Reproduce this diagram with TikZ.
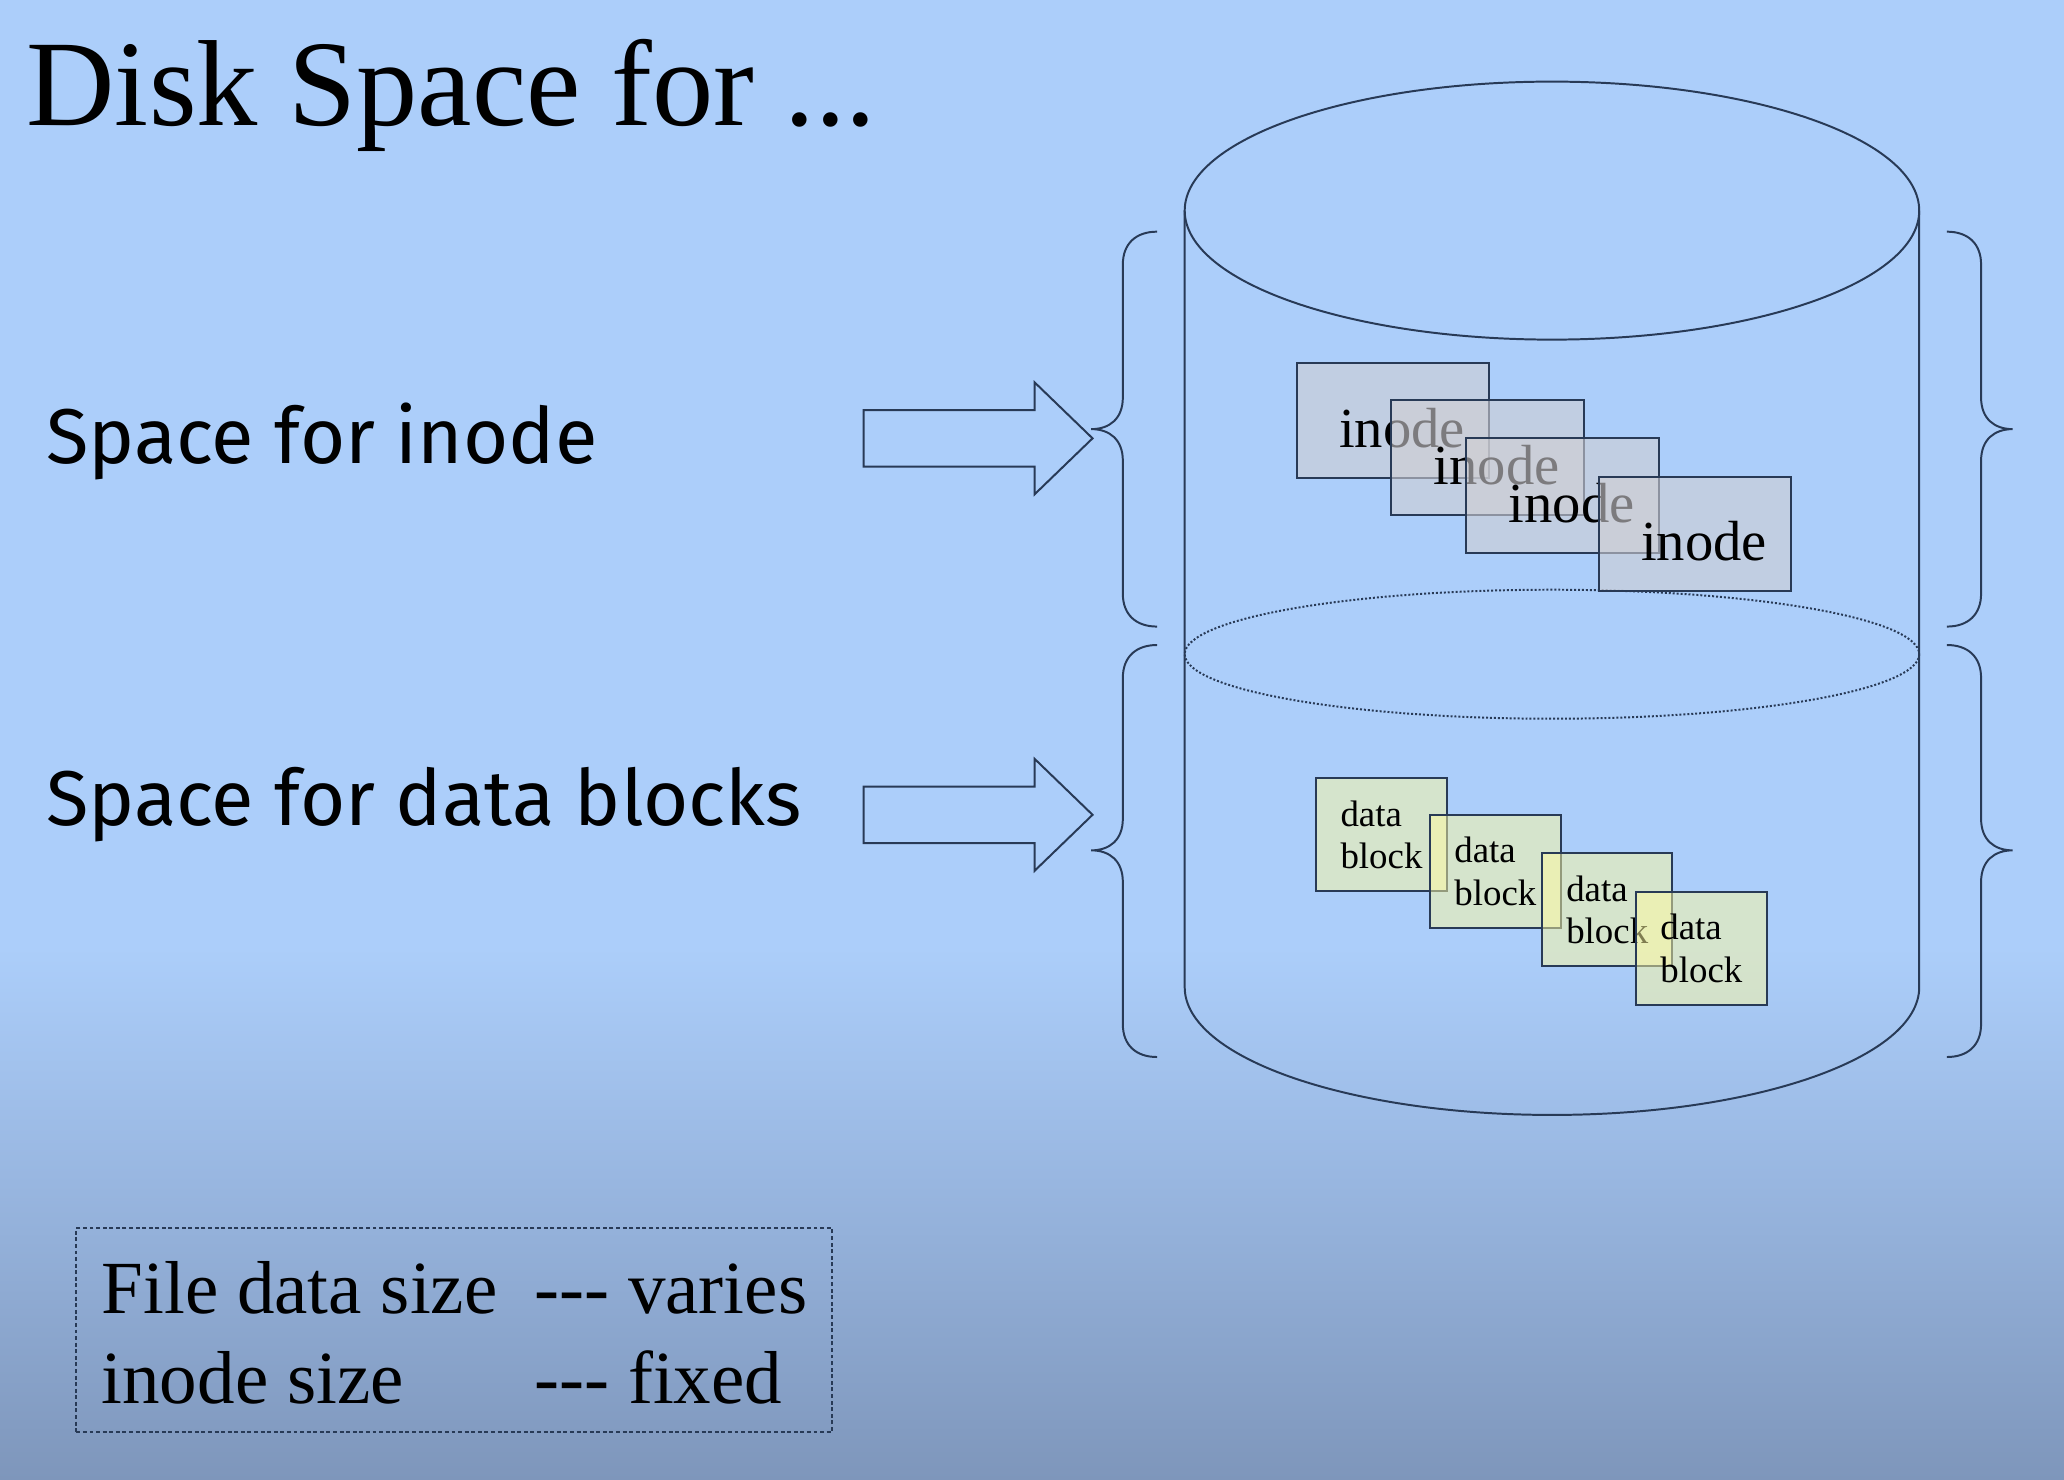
\documentclass[tikz,border=0pt]{standalone}
\usepackage{fontspec}
\setmainfont{Liberation Serif}
\newfontfamily\handfont{Fira Sans}
\usetikzlibrary{positioning}

\definecolor{bgtop}{RGB}{172,206,250}
\definecolor{bgmid}{RGB}{152,182,224}
\definecolor{bgbot}{RGB}{126,150,187}
\definecolor{linecol}{RGB}{40,58,86}
\definecolor{inodefill}{RGB}{208,206,210}
\definecolor{datafill}{RGB}{255,250,160}

\pgfdeclareverticalshading{slidebg}{100bp}{color(0bp)=(bgbot); color(25bp)=(bgbot);
  color(35bp)=(bgmid); color(43bp)=(bgtop); color(100bp)=(bgtop)}

\tikzset{%
  % Specifications for style of nodes:
       outline/.style = {draw=linecol, line width=1.5pt},
     titletext/.style = {font=\fontsize{93}{100}\selectfont},
      handtext/.style = {font=\handfont\fontsize{59}{66}\selectfont},
      inodebox/.style = {rectangle, outline, fill=inodefill, fill opacity=0.6,
                         text opacity=1, minimum width=146pt, minimum height=87pt,
                         font=\fontsize{43}{48}\selectfont, text height=41pt,
                         text depth=0pt, execute at begin node={\hspace*{14pt}}},
     datablock/.style = {rectangle, outline, fill=datafill, fill opacity=0.5,
                         text opacity=1, minimum width=99pt, minimum height=86pt,
                         align=left, font=\fontsize{28}{32}\selectfont},
       notebox/.style = {rectangle, draw=linecol, line width=1.3pt,
                         dash pattern=on 3pt off 2pt,
                         minimum width=574pt, minimum height=155pt},
      notetext/.style = {font=\fontsize{57}{68}\selectfont},
}

\begin{document}
\begin{tikzpicture}[x=1pt, y=-1pt, every node/.style={inner sep=0pt}]

  % Background of the slide
  \useasboundingbox (0,0) rectangle (1568,1124);
  \shade[shading=slidebg] (0,0) rectangle (1568,1124);

  % Specification of text nodes
  \node (title)     [titletext, anchor=base west] at (20,95)  {Disk Space for ...};
  \node (inodeText) [handtext, anchor=base west]  at (35,352) {Space for inode};
  \node (dataText)  [handtext, anchor=base west]  at (35,627) {Space for data blocks};

  % Cylinder with the dotted border between both spaces
  \draw[outline] (1179,160) ellipse [x radius=279, y radius=98];
  \draw[outline] (900,160) -- (900,750)
        arc [start angle=180, end angle=0, x radius=279, y radius=97] -- (1458,160);
  \draw[outline, dash pattern=on 1.5pt off 1.5pt] (1179,497) ellipse [x radius=279, y radius=49];

  % Braces on both sides of the cylinder
  \foreach \s in {1,-1}
    \foreach \t/\b/\m in {176/476/326, 490/803/646}
      \draw[outline, shift={(1179,0)}, xscale=\s]
        (-300,\t) .. controls (-316,\t) and (-326,\t+9) .. (-326,\t+25)
        -- (-326,\m-24) .. controls (-326,\m-8) and (-336,\m) .. (-350,\m)
        .. controls (-336,\m) and (-326,\m+8) .. (-326,\m+24)
        -- (-326,\b-25) .. controls (-326,\b-9) and (-316,\b) .. (-300,\b);

  % Block arrows pointing to the braces
  \foreach \y in {333,619}
    \draw[outline] (656,\y-21.5) -- (786,\y-21.5) -- (786,\y-42.5) -- (830,\y)
          -- (786,\y+42.5) -- (786,\y+21.5) -- (656,\y+21.5) -- cycle;

  % inodes
  \node (inodeA) [inodebox] at (1058,319.5)   {inode};
  \node (inodeB) [inodebox] at (1130,347.5)   {inode};
  \node (inodeC) [inodebox] at (1187,376.5)   {inode};
  \node (inodeD) [inodebox] at (1287.5,405.5) {inode};

  % data blocks
  \node (blockA) [datablock] at (1049.5,634)  {data\\block};
  \node (blockB) [datablock] at (1136,662)    {data\\block};
  \node (blockC) [datablock] at (1221,691)    {data\\block};
  \node (blockD) [datablock] at (1292.5,720.5) {data\\block};

  % Note about the sizes
  \node (note)     [notebox] at (345,1010.5) {};
  \node (noteText) [notetext, anchor=base west] at (77,998)
        {\begin{tabular}[t]{@{}l@{\hspace{28pt}}l@{}}
           File data size & -{}-{}- varies\\
           inode size     & -{}-{}- fixed
         \end{tabular}};

\end{tikzpicture}
\end{document}
